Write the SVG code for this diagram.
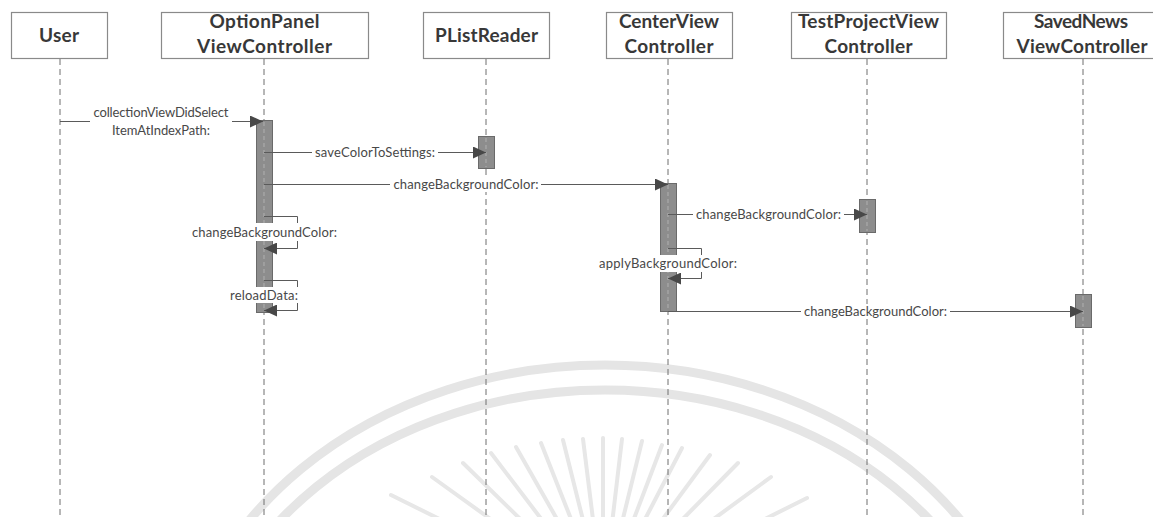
<svg xmlns="http://www.w3.org/2000/svg" width="1153" height="517" viewBox="0 0 1153 517">
<style>
.box{fill:#fff;stroke:#8a8a8a;stroke-width:1.2}
.title{font-family:Lato,"Liberation Sans",sans-serif;font-weight:bold;font-size:19px;fill:#383838;text-anchor:middle}
.life{stroke:#6f6f6f;stroke-width:1;stroke-dasharray:6 4;fill:none}
.bar{fill:#8d8d8d;stroke:#6a6a6a;stroke-width:1}
.barline{stroke:#b0b0b0;stroke-width:1;stroke-dasharray:4 3}
.msg{stroke:#5a5a5a;stroke-width:1;fill:none;marker-end:url(#arr)}
.lbl{font-family:Lato,"Liberation Sans",sans-serif;font-size:13px;fill:#484848;text-anchor:middle}
.bg{fill:#fff}
.wm{fill:none;stroke:#e5e5e5;stroke-width:9}
.ray{stroke:#e7e7e7;stroke-width:4;stroke-linecap:round}
</style>
<defs>
<marker id="arr" markerUnits="userSpaceOnUse" markerWidth="14" markerHeight="12" refX="13" refY="6" orient="auto">
<path d="M0,0 L13,6 L0,12 Z" fill="#484848"/>
</marker>
</defs>
<rect width="1153" height="517" fill="#fff"/>
<g id="watermark">
<ellipse class="wm" cx="605" cy="720" rx="430" ry="355"/>
<ellipse class="wm" cx="605" cy="720" rx="408" ry="330"/>
<g>
<line class="ray" x1="391" y1="495" x2="603" y2="600"/>
<line class="ray" x1="432" y1="477" x2="603" y2="600"/>
<line class="ray" x1="463" y1="463" x2="603" y2="600"/>
<line class="ray" x1="491" y1="453" x2="603" y2="600"/>
<line class="ray" x1="516" y1="447" x2="603" y2="600"/>
<line class="ray" x1="541" y1="443" x2="603" y2="600"/>
<line class="ray" x1="563" y1="440" x2="603" y2="600"/>
<line class="ray" x1="583" y1="439" x2="603" y2="600"/>
<line class="ray" x1="603" y1="438" x2="603" y2="600"/>
<line class="ray" x1="622" y1="439" x2="603" y2="600"/>
<line class="ray" x1="642" y1="441" x2="603" y2="600"/>
<line class="ray" x1="662" y1="445" x2="603" y2="600"/>
<line class="ray" x1="682" y1="448" x2="603" y2="600"/>
<line class="ray" x1="710" y1="455" x2="603" y2="600"/>
<line class="ray" x1="738" y1="463" x2="603" y2="600"/>
<line class="ray" x1="771" y1="477" x2="603" y2="600"/>
<line class="ray" x1="807" y1="498" x2="603" y2="600"/>
</g>
</g>
<g id="user">
<rect class="box" x="11.5" y="12.5" width="96" height="46"/>
<text class="title" x="59" y="42" textLength="40">User</text>
<line class="life" x1="60" y1="59" x2="60" y2="517"/>
</g>
<g id="optionPanel">
<rect class="box" x="161.5" y="12.5" width="207" height="46"/>
<text class="title" x="264.5" y="28" textLength="110">OptionPanel</text>
<text class="title" x="264.5" y="53" textLength="135">ViewController</text>
<line class="life" x1="264" y1="59" x2="264" y2="517"/>
<rect class="bar" x="256.5" y="120.5" width="16" height="192"/>
<line class="barline" x1="264" y1="122" x2="264" y2="311"/>
</g>
<g id="plistReader">
<rect class="box" x="423.5" y="12.5" width="126" height="46"/>
<text class="title" x="486.5" y="42" textLength="103">PListReader</text>
<line class="life" x1="486" y1="59" x2="486" y2="517"/>
<rect class="bar" x="478.5" y="136.5" width="16" height="32"/>
<line class="barline" x1="486" y1="138" x2="486" y2="167"/>
</g>
<g id="centerView">
<rect class="box" x="606.5" y="12.5" width="126" height="46"/>
<text class="title" x="669" y="28" textLength="100">CenterView</text>
<text class="title" x="669" y="53" textLength="89">Controller</text>
<line class="life" x1="668" y1="59" x2="668" y2="517"/>
<rect class="bar" x="660.5" y="183.5" width="16" height="128"/>
<line class="barline" x1="668" y1="185" x2="668" y2="310"/>
</g>
<g id="testProjectView">
<rect class="box" x="791.5" y="12.5" width="155" height="46"/>
<text class="title" x="868.5" y="28" textLength="141">TestProjectView</text>
<text class="title" x="868.5" y="53" textLength="88">Controller</text>
<line class="life" x1="867" y1="59" x2="867" y2="517"/>
<rect class="bar" x="859.5" y="199.5" width="16" height="33"/>
<line class="barline" x1="867" y1="201" x2="867" y2="231"/>
</g>
<g id="savedNews">
<rect class="box" x="1003.5" y="12.5" width="160" height="46"/>
<text class="title" x="1081" y="28" textLength="94">SavedNews</text>
<text class="title" x="1082" y="53" textLength="131">ViewController</text>
<line class="life" x1="1083" y1="59" x2="1083" y2="517"/>
<rect class="bar" x="1075.5" y="294.5" width="16" height="33"/>
<line class="barline" x1="1083" y1="296" x2="1083" y2="326"/>
</g>
<g id="connectors">
<path class="msg" d="M60,121.5 H263"/>
<rect class="bg" x="90" y="103" width="142" height="36"/>
<text class="lbl" x="161" y="117" textLength="135">collectionViewDidSelect</text>
<text class="lbl" x="161" y="135" textLength="98">ItemAtIndexPath:</text>

<path class="msg" d="M264,152.5 H486"/>
<rect class="bg" x="312" y="145" width="126" height="15"/>
<text class="lbl" x="375" y="156.5" textLength="120">saveColorToSettings:</text>

<path class="msg" d="M264,184.5 H668"/>
<rect class="bg" x="390" y="177" width="151" height="15"/>
<text class="lbl" x="466" y="188.5" textLength="145">changeBackgroundColor:</text>

<path class="msg" d="M264,216.5 H297.5 V248.5 H264"/>
<rect class="bg" x="190" y="223" width="149" height="18"/>
<text class="lbl" x="264.5" y="236.5" textLength="145">changeBackgroundColor:</text>

<path class="msg" d="M264,280.5 H297.5 V310.5 H264"/>
<rect class="bg" x="228" y="287" width="72" height="16"/>
<text class="lbl" x="264" y="299.5" textLength="68">reloadData:</text>

<path class="msg" d="M668,214.5 H867"/>
<rect class="bg" x="693" y="207" width="151" height="15"/>
<text class="lbl" x="768.5" y="218.5" textLength="145">changeBackgroundColor:</text>

<path class="msg" d="M668,248.5 H701.5 V278.5 H668"/>
<rect class="bg" x="597" y="255" width="142" height="17"/>
<text class="lbl" x="668" y="267.5" textLength="138">applyBackgroundColor:</text>

<path class="msg" d="M668,311.5 H1083"/>
<rect class="bg" x="801" y="304" width="149" height="15"/>
<text class="lbl" x="875.5" y="315.5" textLength="143">changeBackgroundColor:</text>
</g>
</svg>
